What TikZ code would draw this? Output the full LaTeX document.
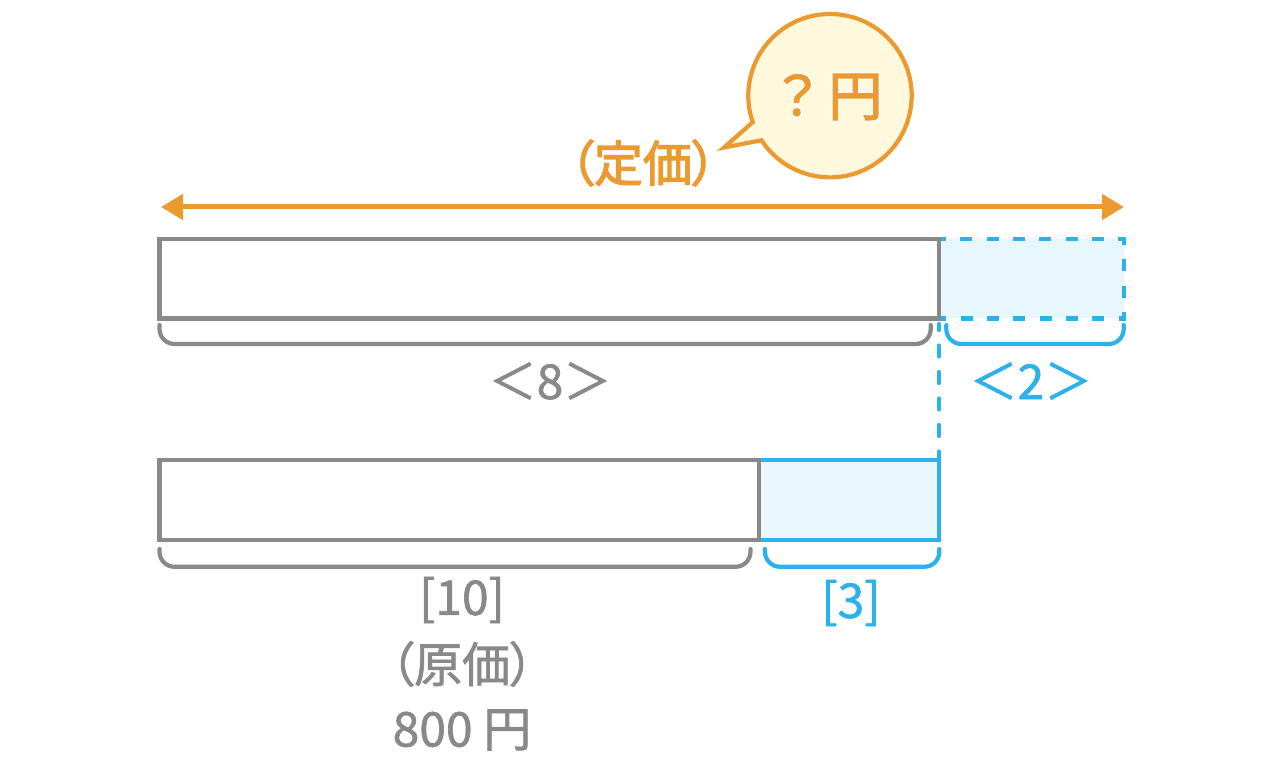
\documentclass[tikz,border=0pt]{standalone}
\usepackage{fontspec}
\usetikzlibrary{arrows.meta}
\newfontfamily\jp[RawFeature=+palt,FakeBold=1.3]{Noto Sans CJK JP}
\newfontfamily\jphalo[RawFeature=+palt,FakeBold=7]{Noto Sans CJK JP}
\newfontfamily\jpb[RawFeature=+palt,FakeBold=2.4]{Noto Sans CJK JP}
\definecolor{cgrey}{HTML}{898989}
\definecolor{corange}{HTML}{EA9A2E}
\definecolor{cblue}{HTML}{2CB1EC}
\definecolor{lblue}{HTML}{E8F7FE}
\definecolor{lyellow}{HTML}{FEF8DC}
\tikzset{
  greybar/.style={draw=cgrey,line width=4.2pt,inner sep=0pt,outer sep=0pt,fill=white},
  bluefill/.style={fill=lblue,inner sep=0pt,outer sep=0pt},
  bluebar/.style={bluefill,draw=cblue,line width=4.2pt},
  bluedash/.style={draw=cblue,line width=4.2pt,dash pattern=on 12pt off 14.33pt,dash phase=5pt,line join=miter},
  guide/.style={draw=cblue,line width=4.2pt,line cap=round,dash pattern=on 11pt off 15.5pt,dash phase=5pt},
  greybrace/.style={draw=cgrey,line width=4.2pt,line cap=round,rounded corners=15pt},
  bluebrace/.style={draw=cblue,line width=4.2pt,line cap=round,rounded corners=15pt},
  label/.style={inner sep=0pt,outer sep=0pt,font=\jp\fontsize{48}{48}\selectfont},
  span/.style={draw=corange,line width=5pt,{Triangle[length=22pt,width=25pt]}-{Triangle[length=22pt,width=25pt]}},
}
\begin{document}
\begin{tikzpicture}[x=1pt,y=1pt]
\useasboundingbox (0,0) rectangle (1274,770);
% top bar
\node[bluefill,minimum width=185pt,minimum height=79.8pt] (ext) at (1031.5,491.4) {};
\draw[bluedash] (ext.north west) -- (ext.north east) -- (ext.south east) -- (ext.south west);
\node[greybar,minimum width=779.5pt,minimum height=79.8pt] (top) at (549.25,491.4) {};
% lower bar
\node[bluebar,minimum width=180pt,minimum height=80pt] (cost) at (849,270) {};
\node[greybar,minimum width=599.5pt,minimum height=80pt] (low) at (459.25,270) {};
% guide
\draw[guide,shorten <=5.5pt] (top.south east) -- (cost.north east);
% braces
\coordinate (a1) at (159.5,445);
\coordinate (a2) at (930.7,445);
\draw[greybrace] (a1) |- (549,426) -| (a2);
\coordinate (b1) at (946.3,445);
\coordinate (b2) at (1123.7,445);
\draw[bluebrace] (b1) |- (1035,426) -| (b2);
\coordinate (c1) at (159.5,221);
\coordinate (c2) at (750.5,221);
\draw[greybrace] (c1) |- (455,203.2) -| (c2);
\coordinate (d1) at (765,221);
\coordinate (d2) at (939.3,221);
\draw[bluebrace] (d1) |- (852,203.2) -| (d2);
% span arrow
\coordinate (sl) at (161,563);
\coordinate (sr) at (1124,563);
\draw[span] (sl) -- (sr);
% bubble
\coordinate (bc) at (830,674.3);
\coordinate (tip) at (724,622.5);
\draw[draw=corange,fill=lyellow,line width=4.2pt,line join=miter]
  (tip) -- ([shift={(213.1:81.7)}]bc) arc[start angle=213.1,end angle=558.9,radius=81.7] -- cycle;
% labels
\node[label,text=corange,font=\jpb\fontsize{49}{49}\selectfont] (price) at (643,607) {（定価）};
\node[label,text=corange,font=\jpb\fontsize{54}{54}\selectfont] (unk) at (830,673) {\rlap{\jphalo\color{white}？ 円}？ 円};
\node[label,text=cgrey] (eight) at (550,389) {＜8＞};
\node[label,text=cblue] (two) at (1031,389) {＜2＞};
\node[label,text=cgrey] (ten) at (462,170) {[10]};
\node[label,text=cblue] (three) at (851,167) {[3]};
\node[label,text=cgrey] (orig) at (462,106) {（原価）};
\node[label,text=cgrey] (eighthundred) at (462,40) {800 円};
\end{tikzpicture}
\end{document}
